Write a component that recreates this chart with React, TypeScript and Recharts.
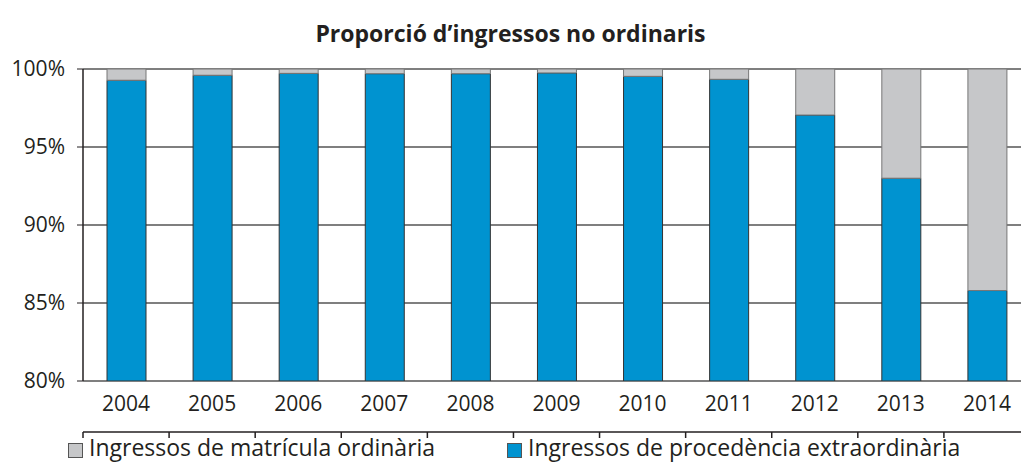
import React from "react";
import { BarChart, Bar, XAxis, YAxis, CartesianGrid, Legend } from "recharts";

const years = ["2004", "2005", "2006", "2007", "2008", "2009", "2010", "2011", "2012", "2013", "2014"];
// share of extraordinary income (%)
const extraordinaria = [99.28, 99.6, 99.72, 99.7, 99.7, 99.75, 99.53, 99.34, 97.05, 93.0, 85.8];
const yTicks = [80, 85, 90, 95, 100];
const edgeTicks = [0, 1, 2, 3, 4, 5, 6, 7, 8, 9, 10, 11];

const data = years.map((year, i) => ({
  year,
  edge: i + 0.5,
  extra: extraordinaria[i],
  ordinaria: +(100 - extraordinaria[i]).toFixed(2),
}));

const FONT = "'Open Sans', 'Noto Sans', sans-serif";
const BLUE = "#0093d0";
const GRAY = "#c6c7c9";

const legendItems = [
  { label: "Ingressos de matrícula ordinària", color: GRAY, left: 68 },
  { label: "Ingressos de procedència extraordinària", color: BLUE, left: 507 },
];

const LegendContent = () => (
  <div style={{ position: "relative", height: 31, fontFamily: FONT, fontSize: 23, color: "#231f20" }}>
    {legendItems.map((it) => (
      <div key={it.label} style={{ position: "absolute", left: it.left, top: 0, display: "flex", alignItems: "center", whiteSpace: "nowrap", lineHeight: "31px" }}>
        <span style={{ width: 13, height: 13, background: it.color, border: "1px solid #555", marginRight: 6, marginTop: 5 }} />
        <span>{it.label}</span>
      </div>
    ))}
  </div>
);

export default function App() {
  return (
    <div style={{ position: "absolute", left: 0, top: 0, width: 1021, height: 464, overflow: "hidden", background: "#fff" }}>
      <div style={{ position: "absolute", top: 17, width: 1021, textAlign: "center", fontFamily: FONT, fontWeight: 700, fontSize: 23, color: "#231f20" }}>
        Proporció d’ingressos no ordinaris
      </div>
      <BarChart
        width={1030}
        height={464}
        data={data}
        margin={{ top: 69, right: 0, left: 0, bottom: 0 }}
        barSize={39}
      >
        <CartesianGrid vertical={false} stroke="#555" strokeWidth={1.5} />
        <XAxis
          xAxisId="cat"
          dataKey="year"
          height={51}
          tickLine={false}
          axisLine={false}
          tickSize={0}
          tickMargin={15}
          tick={{ fontSize: 21, fill: "#231f20", fontFamily: FONT }}
        />
        <XAxis
          xAxisId="edge"
          type="number"
          dataKey="edge"
          domain={[0, 11]}
          ticks={edgeTicks}
          interval={0}
          height={1}
          tickSize={6}
          tick={() => <g />}
          tickLine={{ stroke: "#231f20", strokeWidth: 1.5 }}
          axisLine={{ stroke: "#231f20", strokeWidth: 1.5 }}
        />
        <YAxis
          domain={[80, 100]}
          ticks={yTicks}
          allowDataOverflow
          width={83}
          tickSize={6}
          tickMargin={12}
          tickFormatter={(v) => `${v}%`}
          tick={{ fontSize: 21, fill: "#231f20", fontFamily: FONT }}
          axisLine={{ stroke: "#231f20", strokeWidth: 1.5 }}
          tickLine={{ stroke: "#231f20" }}
        />
        <Legend verticalAlign="bottom" align="left" content={<LegendContent />} wrapperStyle={{ left: 0, bottom: 1 }} />
        <Bar xAxisId="cat" dataKey="extra" stackId="a" fill={BLUE} stroke="#333" strokeWidth={1} isAnimationActive={false} />
        <Bar xAxisId="cat" dataKey="ordinaria" stackId="a" fill={GRAY} stroke="#777" strokeWidth={1} isAnimationActive={false} />
      </BarChart>
    </div>
  );
}
